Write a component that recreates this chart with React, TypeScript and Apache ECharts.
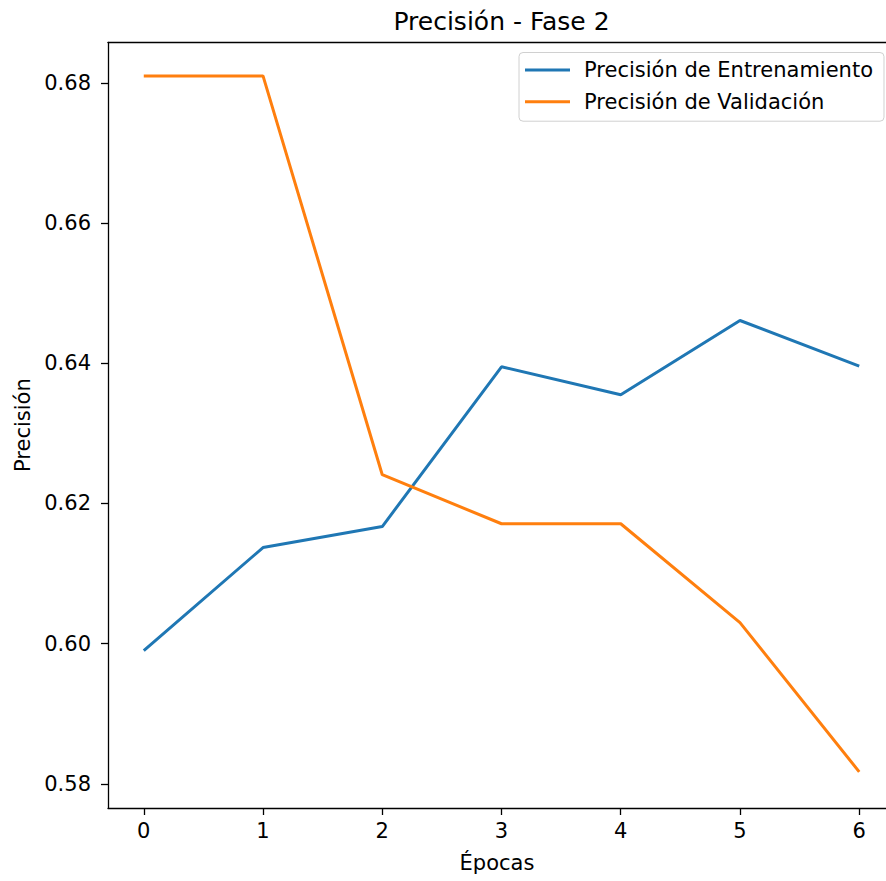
import React, { useEffect, useRef } from "react";
import * as echarts from "echarts";

const epochs = [0, 1, 2, 3, 4, 5, 6];
const trainAcc = [0.599, 0.6137, 0.6167, 0.6395, 0.6355, 0.6461, 0.6396];
const valAcc = [0.681, 0.681, 0.6241, 0.6171, 0.6171, 0.603, 0.5817];
const yTicks = [0.58, 0.6, 0.62, 0.64, 0.66, 0.68];
const xTicks = [0, 1, 2, 3, 4, 5, 6];
const seriesNames = ["Precisión de Entrenamiento", "Precisión de Validación"];
const titleText = "Precisión - Fase 2";
const xName = "Épocas";
const yName = "Precisión";

const FONT = "DejaVu Sans";

export default function App() {
  const ref = useRef<HTMLDivElement>(null);
  useEffect(() => {
    if (!ref.current) return;
    const chart = echarts.init(ref.current, null, { renderer: "svg" });
    const spine = { show: true, onZero: false, lineStyle: { color: "#000", width: 1.3 } };
    const tick = { show: true, inside: false, length: 7, lineStyle: { color: "#000", width: 1.3 } };
    const xMin = -0.3;
    const xMax = 6.2245;
    chart.setOption({
      animation: false,
      backgroundColor: "#fff",
      textStyle: { fontFamily: FONT },
      grid: {
        left: 108,
        top: 42.3,
        width: 778,
        height: 765.7,
        show: false,
      },
      graphic: [
        {
          type: "text",
          x: 501.5,
          y: 21.4,
          style: {
            text: titleText,
            fontFamily: FONT,
            fontSize: 25,
            fill: "#000",
            align: "center",
            verticalAlign: "middle",
          },
        },
      ],
      legend: {
        orient: "vertical",
        left: 519,
        top: 52.5,
        padding: [7, 11, 9, 6],
        itemWidth: 45,
        itemHeight: 3,
        itemGap: 10.7,
        icon: "rect",
        backgroundColor: "#fff",
        borderColor: "#d0d0d0",
        borderWidth: 1,
        borderRadius: 4,
        textStyle: { fontFamily: FONT, fontSize: 21, color: "#000", padding: [0, 0, 0, 9], lineHeight: 21 },
        data: seriesNames.map((n) => ({ name: n })),
      },
      xAxis: [
        {
          type: "value",
          min: xMin,
          max: xMax,
          position: "bottom",
          splitLine: { show: false },
          axisLine: spine,
          axisTick: { ...tick, customValues: xTicks },
          axisLabel: {
            customValues: xTicks,
            formatter: (v: number) => String(v),
            fontFamily: FONT,
            fontSize: 21,
            color: "#000",
            margin: 12,
          },
          name: xName,
          nameLocation: "middle",
          nameGap: 44,
          nameTextStyle: { fontFamily: FONT, fontSize: 21, color: "#000" },
        },
        {
          type: "value",
          min: xMin,
          max: xMax,
          position: "top",
          splitLine: { show: false },
          axisLine: spine,
          axisTick: { show: false },
          axisLabel: { show: false },
        },
      ],
      yAxis: {
        type: "value",
        min: 0.57654,
        max: 0.6858,
        splitLine: { show: false },
        axisLine: spine,
        axisTick: { ...tick, customValues: yTicks },
        axisLabel: {
          customValues: yTicks,
          formatter: (v: number) => v.toFixed(2),
          fontFamily: FONT,
          fontSize: 21,
          color: "#000",
          margin: 17,
        },
        name: yName,
        nameLocation: "middle",
        nameGap: 64,
        nameTextStyle: { fontFamily: FONT, fontSize: 21, color: "#000" },
      },
      series: [
        {
          name: seriesNames[0],
          type: "line",
          xAxisIndex: 0,
          data: epochs.map((e, i) => [e, trainAcc[i]]),
          symbol: "none",
          showSymbol: false,
          lineStyle: { color: "#1f77b4", width: 3 },
          itemStyle: { color: "#1f77b4" },
          clip: true,
        },
        {
          name: seriesNames[1],
          type: "line",
          xAxisIndex: 0,
          data: epochs.map((e, i) => [e, valAcc[i]]),
          symbol: "none",
          showSymbol: false,
          lineStyle: { color: "#ff7f0e", width: 3 },
          itemStyle: { color: "#ff7f0e" },
          clip: true,
        },
      ],
    });
    return () => chart.dispose();
  }, []);
  return (
    <div
      ref={ref}
      style={{ position: "absolute", left: 0, top: 0, width: 886, height: 881 }}
    />
  );
}
